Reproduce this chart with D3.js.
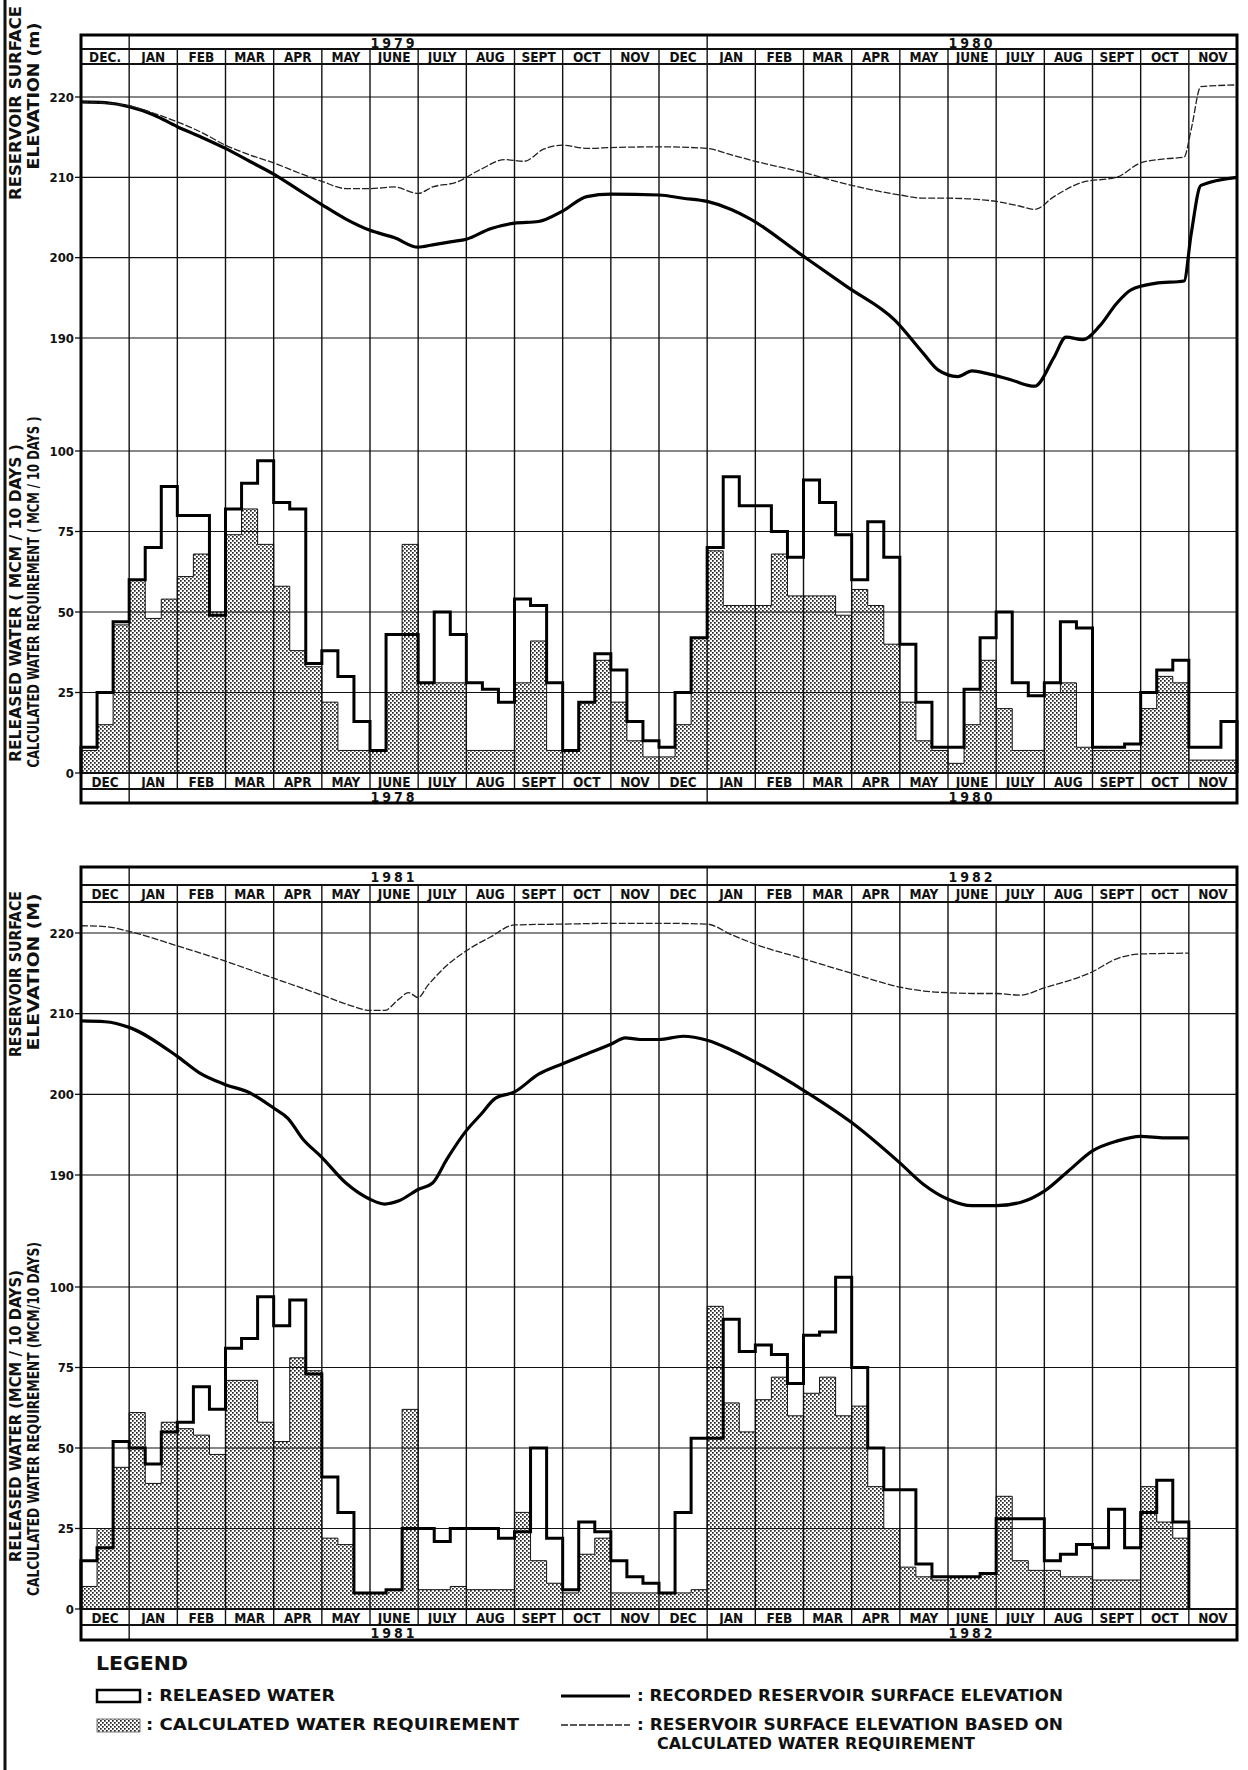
<!DOCTYPE html>
<html lang="en">
<head>
<meta charset="UTF-8">
<title>Reservoir operation 1978-1982</title>
<script src="https://d3js.org/d3.v7.min.js"></script>
<style>
    body { margin: 0; background: #fff; }
    svg { display: block; }
    text { font-family: "Liberation Sans Narrow", "DejaVu Sans Condensed", "Liberation Sans", sans-serif; font-weight: bold; fill: #111; }
</style>
</head>
<body>
<div id="chart"></div>
<script>
// ---- data ----
const months = ["DEC", "JAN", "FEB", "MAR", "APR", "MAY", "JUNE", "JULY", "AUG", "SEPT", "OCT", "NOV"];
const elevTicks = [220, 210, 200, 190];
const waterTicks = [100, 75, 50, 25, 0];

// released water / calculated requirement, MCM per 10 days (3 per month, Dec 1978 .. Nov 1980)
const topReleased = [
    8, 25, 47,  60, 70, 89,  80, 80, 49,  82, 90, 97,  84, 82, 34,  38, 30, 16,
    7, 43, 43,  28, 50, 43,  28, 26, 22,  54, 52, 28,  7, 22, 37,  32, 16, 10,
    8, 25, 42,  70, 92, 83,  83, 75, 67,  91, 84, 74,  60, 78, 67,  40, 22, 8,
    8, 26, 42,  50, 28, 24,  28, 47, 45,  8, 8, 9,  25, 32, 35,  8, 8, 16
];
const topCalc = [
    7, 15, 46,  60, 48, 54,  61, 68, 50,  74, 82, 71,  58, 38, 33,  22, 7, 7,
    7, 25, 71,  28, 28, 28,  7, 7, 7,  28, 41, 7,  7, 22, 35,  22, 10, 5,
    5, 15, 42,  69, 52, 52,  52, 68, 55,  55, 55, 49,  57, 52, 40,  22, 10, 7,
    3, 15, 35,  20, 7, 7,  25, 28, 8,  7, 7, 7,  20, 30, 28,  4, 4, 4
];
// Dec 1980 .. Oct 1982
const bottomReleased = [
    15, 19, 52,  50, 45, 55,  58, 69, 62,  81, 84, 97,  88, 96, 73,  41, 30, 5,
    5, 6, 25,  25, 21, 25,  25, 25, 22,  24, 50, 22,  6, 27, 24,  15, 10, 8,
    5, 30, 53,  53, 90, 80,  82, 79, 70,  85, 86, 103,  75, 50, 37,  37, 14, 10,
    10, 10, 11,  28, 28, 28,  15, 17, 20,  19, 31, 19,  30, 40, 27
];
const bottomCalc = [
    7, 25, 44,  61, 39, 58,  56, 54, 48,  71, 71, 58,  52, 78, 74,  22, 20, 5,
    5, 6, 62,  6, 6, 7,  6, 6, 6,  30, 15, 8,  5, 17, 22,  5, 5, 5,
    5, 5, 6,  94, 64, 55,  65, 72, 60,  67, 72, 60,  63, 38, 25,  13, 10, 9,
    10, 10, 11,  35, 15, 12,  12, 10, 10,  9, 9, 9,  38, 27, 22
];

// reservoir surface elevation (m); time in months from start of first December
const topRecT = [0, 0.5, 1, 1.5, 2, 2.5, 3, 3.5, 4, 4.5, 5, 5.5, 6, 6.5, 7, 7.3, 7.7, 8, 8.5, 9, 9.5, 10, 10.5, 11, 12, 12.5, 13, 13.5, 13.9, 14.9, 15.9, 16.9, 17.5, 17.8, 18.2, 18.5, 18.8, 19.3, 19.8, 20.2, 20.45, 20.8, 21.15, 21.5, 21.8, 22.3, 22.9, 23.05, 23.25, 24];
const topRecV = [219.4, 219.3, 218.8, 217.8, 216.3, 215.0, 213.6, 212.0, 210.4, 208.5, 206.6, 204.8, 203.4, 202.5, 201.3, 201.6, 202.0, 202.3, 203.6, 204.3, 204.5, 205.8, 207.6, 207.9, 207.8, 207.4, 207.0, 206.0, 204.8, 200.6, 196.4, 192.2, 188.0, 186.0, 185.2, 185.9, 185.6, 184.8, 184.0, 187.6, 190.1, 189.8, 191.5, 194.3, 196.0, 196.8, 197.1, 203.0, 209.0, 210.0];
const topCalcT = [0, 1, 1.5, 2, 2.5, 3, 3.5, 4, 4.5, 5, 5.5, 6, 6.5, 7, 7.3, 7.8, 8.3, 8.8, 9.2, 9.6, 10, 10.5, 11, 12, 13, 13.5, 14, 15, 16, 17, 17.5, 18, 18.5, 19, 19.5, 19.8, 20.2, 20.8, 21.5, 22, 22.5, 22.9, 23.05, 23.25, 24];
const topCalcV = [219.4, 218.9, 218.0, 216.9, 215.6, 214.0, 212.8, 211.8, 210.6, 209.5, 208.6, 208.6, 208.8, 208.0, 208.8, 209.4, 211.0, 212.2, 212.0, 213.5, 214.0, 213.6, 213.7, 213.8, 213.6, 212.8, 212.0, 210.6, 209.0, 207.8, 207.4, 207.4, 207.3, 207.0, 206.4, 206.0, 207.6, 209.4, 210.0, 211.8, 212.3, 212.5, 216.0, 221.3, 221.5];

const botRecT = [0, 0.5, 1, 2, 2.45, 3, 3.5, 4, 4.3, 4.6, 5, 5.5, 6, 6.3, 6.6, 7, 7.3, 7.6, 8, 8.3, 8.6, 9, 9.5, 10, 10.5, 11, 11.3, 11.6, 12, 12.5, 13, 13.5, 14, 15, 16, 17, 17.5, 18, 18.5, 19, 19.5, 20, 20.5, 21, 21.5, 22, 22.5, 23];
const botRecV = [209.1, 209.0, 208.3, 204.7, 202.7, 201.2, 200.2, 198.3, 197.0, 194.5, 192.2, 189.0, 187.0, 186.4, 186.8, 188.2, 189.0, 192.0, 195.5, 197.5, 199.5, 200.3, 202.5, 203.8, 205.0, 206.2, 207.0, 206.8, 206.8, 207.2, 206.7, 205.5, 204.0, 200.5, 196.5, 191.5, 188.8, 187.0, 186.2, 186.2, 186.6, 188.0, 190.5, 193.0, 194.2, 194.8, 194.6, 194.6];
const botCalcT = [0, 0.5, 1, 2, 3, 4, 5, 5.6, 6, 6.3, 6.6, 6.8, 7, 7.2, 7.6, 8, 8.5, 9, 10, 11, 12, 13, 13.5, 14, 15, 16, 17, 17.5, 18, 18.5, 19, 19.5, 20, 21, 21.5, 22, 23];
const botCalcV = [220.9, 220.8, 220.2, 218.4, 216.5, 214.4, 212.3, 211.0, 210.4, 210.4, 211.8, 212.6, 212.0, 213.5, 216.0, 217.8, 219.5, 221.0, 221.1, 221.2, 221.2, 221.1, 219.8, 218.6, 216.8, 215.0, 213.3, 212.8, 212.6, 212.5, 212.5, 212.3, 213.2, 215.2, 216.8, 217.4, 217.5];

// ---- layout ----
const W = 1248, H = 1770;
const svg = d3.select("#chart").append("svg").attr("width", W).attr("height", H);

const defs = svg.append("defs");
const pat = defs.append("pattern").attr("id", "stipple")
    .attr("patternUnits", "userSpaceOnUse").attr("width", 4).attr("height", 4);
pat.append("rect").attr("width", 4).attr("height", 4).attr("fill", "#fff");
pat.append("rect").attr("x", 0).attr("y", 0).attr("width", 1.7).attr("height", 1.7).attr("fill", "#222");
pat.append("rect").attr("x", 2).attr("y", 2).attr("width", 1.7).attr("height", 1.7).attr("fill", "#222");

// page left border
svg.append("line").attr("x1", 5).attr("x2", 5).attr("y1", 0).attr("y2", H)
    .attr("stroke", "#111").attr("stroke-width", 3);

const x = d3.scaleLinear().domain([0, 24]).range([81, 1237]);

// rotated text squeezed/stretched to a measured length
function vtext(g, cx, cy, len, txt, size) {
    return g.append("text")
        .attr("transform", `translate(${cx},${cy}) rotate(-90)`)
        .attr("text-anchor", "middle").attr("font-size", size)
        .attr("textLength", len).attr("lengthAdjust", "spacingAndGlyphs").text(txt);
}

function drawPanel(p) {
    const g = svg.append("g");
    const yE = d3.scaleLinear().domain([190, 220]).range([p.e190, p.e220]);
    const yW = d3.scaleLinear().domain([0, 100]).range([p.w0, p.w100]);
    const yearTopBot = p.yearBot;
    const headBot = p.headBot;
    const monthBot = p.monthBot;
    const frameBot = p.frameBot;

    // calculated requirement: stippled step area
    const n = p.calc.length;
    const areaPts = [];
    p.calc.forEach((v, i) => {
        areaPts.push([x(i / 3), yW(v)], [x((i + 1) / 3), yW(v)]);
    });
    const area = d3.area().x(d => d[0]).y0(yW(0)).y1(d => d[1]);
    g.append("path").attr("d", area(areaPts)).attr("fill", "url(#stipple)").attr("stroke", "none");
    g.append("path")
        .attr("d", d3.line()([[x(0), yW(0)], ...areaPts, [x(n / 3), yW(0)]]))
        .attr("fill", "none").attr("stroke", "#111").attr("stroke-width", 1);

    // grid
    elevTicks.forEach(t => {
        g.append("line").attr("x1", x(0)).attr("x2", x(24)).attr("y1", yE(t)).attr("y2", yE(t))
            .attr("stroke", "#111").attr("stroke-width", 1.2);
        g.append("line").attr("x1", x(0) - 6).attr("x2", x(0)).attr("y1", yE(t)).attr("y2", yE(t))
            .attr("stroke", "#111").attr("stroke-width", 1.3);
        g.append("text").attr("x", x(0) - 7).attr("y", yE(t)).attr("dy", "0.35em")
            .attr("text-anchor", "end").attr("font-size", 13).text(t);
    });
    waterTicks.forEach(t => {
        if (t > 0) {
            g.append("line").attr("x1", x(0)).attr("x2", x(24)).attr("y1", yW(t)).attr("y2", yW(t))
                .attr("stroke", "#111").attr("stroke-width", 1.2);
        }
        g.append("line").attr("x1", x(0) - 6).attr("x2", x(0)).attr("y1", yW(t)).attr("y2", yW(t))
            .attr("stroke", "#111").attr("stroke-width", 1.3);
        g.append("text").attr("x", x(0) - 7).attr("y", yW(t)).attr("dy", "0.35em")
            .attr("text-anchor", "end").attr("font-size", 13).text(t);
    });
    for (let m = 1; m < 24; m++) {
        g.append("line").attr("x1", x(m)).attr("x2", x(m)).attr("y1", yearTopBot).attr("y2", monthBot)
            .attr("stroke", "#111").attr("stroke-width", 1.4);
    }

    // released water: thick step outline
    const relPts = [[x(0), yW(0)]];
    p.released.forEach((v, i) => {
        relPts.push([x(i / 3), yW(v)], [x((i + 1) / 3), yW(v)]);
    });
    relPts.push([x(p.released.length / 3), yW(0)]);
    g.append("path").attr("d", d3.line()(relPts))
        .attr("fill", "none").attr("stroke", "#000").attr("stroke-width", 3).attr("stroke-linejoin", "miter");

    // elevation lines
    const eLine = d3.line().x(d => x(d[0])).y(d => yE(d[1])).curve(d3.curveMonotoneX);
    g.append("path").attr("d", eLine(p.recT.map((t, i) => [t, p.recV[i]])))
        .attr("fill", "none").attr("stroke", "#000").attr("stroke-width", 3.2);
    g.append("path").attr("d", eLine(p.calcT.map((t, i) => [t, p.calcV[i]])))
        .attr("fill", "none").attr("stroke", "#222").attr("stroke-width", 1.3)
        .attr("stroke-dasharray", "7,2");

    // header and footer rows
    [[p.top, yearTopBot, p.yearsTop], [monthBot, frameBot, p.yearsBottom]].forEach(([y0, y1, yrs]) => {
        [1, 13].forEach(m => {
            g.append("line").attr("x1", x(m)).attr("x2", x(m)).attr("y1", y0).attr("y2", y1)
                .attr("stroke", "#111").attr("stroke-width", 1.4);
        });
        yrs.forEach((yr, k) => {
            g.append("text").attr("x", x(6.5 + 12 * k)).attr("y", (y0 + y1) / 2 + 1).attr("dy", "0.35em")
                .attr("text-anchor", "middle").attr("font-size", 14).attr("letter-spacing", 3).text(yr);
        });
    });
    [[yearTopBot, headBot], [p.w0, monthBot]].forEach(([y0, y1], r) => {
        for (let m = 0; m < 24; m++) {
            const lab = (r === 0 && m === 0 && p.firstDot) ? "DEC." : months[m % 12];
            g.append("text").attr("x", (x(m) + x(m + 1)) / 2).attr("y", (y0 + y1) / 2 + 1).attr("dy", "0.35em")
                .attr("text-anchor", "middle").attr("font-size", 13.5).text(lab);
        }
    });
    [yearTopBot, headBot, p.w0, monthBot].forEach(y => {
        g.append("line").attr("x1", x(0)).attr("x2", x(24)).attr("y1", y).attr("y2", y)
            .attr("stroke", "#111").attr("stroke-width", 1.8);
    });
    g.append("rect").attr("x", x(0)).attr("y", p.top).attr("width", x(24) - x(0)).attr("height", frameBot - p.top)
        .attr("fill", "none").attr("stroke", "#000").attr("stroke-width", 3);

    // axis titles
    p.titles.forEach(t => vtext(g, t[0], t[1], t[2], t[3], 15));
}

drawPanel({
    top: 35, yearBot: 49, headBot: 64, e220: 97, e190: 338, w100: 451, w0: 773, monthBot: 789, frameBot: 803,
    released: topReleased, calc: topCalc,
    recT: topRecT, recV: topRecV, calcT: topCalcT, calcV: topCalcV,
    yearsTop: ["1979", "1980"], yearsBottom: ["1978", "1980"], firstDot: true,
    titles: [
        [21, 103, 194, "RESERVOIR  SURFACE"],
        [39, 96, 147, "ELEVATION    (m)"],
        [21, 603, 318, "RELEASED WATER ( MCM / 10 DAYS )"],
        [39, 592, 351, "CALCULATED WATER REQUIREMENT ( MCM / 10 DAYS )"]
    ]
});
drawPanel({
    top: 867, yearBot: 885, headBot: 902, e220: 933, e190: 1175, w100: 1287, w0: 1609, monthBot: 1625, frameBot: 1640,
    released: bottomReleased, calc: bottomCalc,
    recT: botRecT, recV: botRecV, calcT: botCalcT, calcV: botCalcV,
    yearsTop: ["1981", "1982"], yearsBottom: ["1981", "1982"], firstDot: false,
    titles: [
        [21, 974, 166, "RESERVOIR  SURFACE"],
        [39, 972, 157, "ELEVATION    (M)"],
        [21, 1416, 292, "RELEASED WATER (MCM / 10 DAYS)"],
        [39, 1419, 354, "CALCULATED WATER REQUIREMENT (MCM/10 DAYS)"]
    ]
});

// ---- legend ----
const lg = svg.append("g");
const ltext = (xx, yy, len, txt) => lg.append("text").attr("x", xx).attr("y", yy).attr("dy", "0.35em")
    .attr("font-size", 15).attr("textLength", len).attr("lengthAdjust", "spacingAndGlyphs").text(txt);
lg.append("text").attr("x", 96).attr("y", 1670).attr("font-size", 19)
    .attr("textLength", 92).attr("lengthAdjust", "spacingAndGlyphs").text("LEGEND");
lg.append("rect").attr("x", 97).attr("y", 1690).attr("width", 43).attr("height", 12)
    .attr("fill", "#fff").attr("stroke", "#000").attr("stroke-width", 2.5);
ltext(146, 1696, 189, ": RELEASED  WATER");
lg.append("rect").attr("x", 97).attr("y", 1719).attr("width", 43).attr("height", 13)
    .attr("fill", "url(#stipple)").attr("stroke", "#555").attr("stroke-width", 0.8);
ltext(146, 1725, 373, ": CALCULATED  WATER  REQUIREMENT");
lg.append("line").attr("x1", 561).attr("x2", 630).attr("y1", 1696).attr("y2", 1696)
    .attr("stroke", "#000").attr("stroke-width", 3);
ltext(637, 1696, 426, ": RECORDED  RESERVOIR  SURFACE  ELEVATION");
lg.append("line").attr("x1", 561).attr("x2", 630).attr("y1", 1725).attr("y2", 1725)
    .attr("stroke", "#222").attr("stroke-width", 1.3).attr("stroke-dasharray", "7,2");
ltext(637, 1725, 426, ": RESERVOIR  SURFACE  ELEVATION  BASED  ON");
ltext(657, 1744, 318, "CALCULATED  WATER  REQUIREMENT");
</script>
</body>
</html>
